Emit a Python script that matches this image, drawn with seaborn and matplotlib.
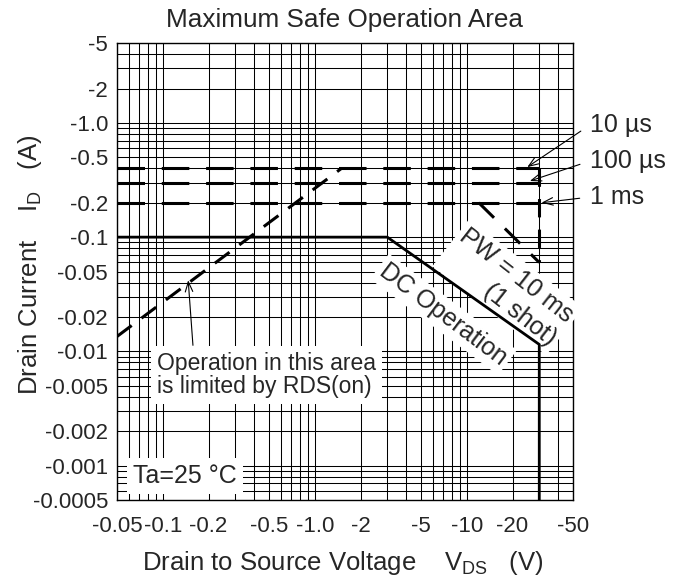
import matplotlib
matplotlib.use('Agg')
import matplotlib.pyplot as plt
import matplotlib.ticker as mticker
import numpy as np
import seaborn as sns

# axis ticks (labels are negative on the datasheet, values are magnitudes)
vds_ticks = [0.05, 0.1, 0.2, 0.5, 1, 2, 5, 10, 20, 50]
vds_labels = ['-0.05', '-0.1', '-0.2', '-0.5', '-1.0', '-2', '-5', '-10', '-20', '-50']
id_ticks = [0.0005, 0.001, 0.002, 0.005, 0.01, 0.02, 0.05, 0.1, 0.2, 0.5, 1, 2, 5]
id_labels = ['-0.0005', '-0.001', '-0.002', '-0.005', '-0.01', '-0.02', '-0.05',
             '-0.1', '-0.2', '-0.5', '-1.0', '-2', '-5']

# SOA curves
dc_v = [0.05, 3, 30, 30]
dc_i = [0.1, 0.1, 0.0115, 0.0005]
pulse_v = [0.05, 30]
pulse_10us_i = [0.4, 0.4]
pulse_100us_i = [0.3, 0.3]
pulse_1ms_i = [0.2, 0.2]
pw10ms_v = [12, 30]
pw10ms_i = [0.2, 0.06]
vdss_v = [30, 30]
vdss_i = [0.4, 0.06]
rds_v = [0.05, 1.5]
rds_i = [0.0135, 0.4]

sns.set_style('white')
plt.rcParams['font.family'] = ['Liberation Sans', 'DejaVu Sans']
plt.rcParams['mathtext.fontset'] = 'custom'
plt.rcParams['mathtext.rm'] = 'Liberation Sans'

fig = plt.figure(figsize=(6.81, 5.84), dpi=100)
ax = fig.add_axes([0.1718, 0.1438, 0.6696, 0.7825])
ax.set_xscale('log')
ax.set_yscale('log')

dash = (0, (9, 5.5))
sns.lineplot(x=dc_v, y=dc_i, sort=False, estimator=None, color='black', lw=2, ax=ax, zorder=4)
for yy in [pulse_10us_i, pulse_100us_i, pulse_1ms_i]:
    sns.lineplot(x=pulse_v, y=yy, sort=False, estimator=None, color='black', lw=2.2,
                 linestyle=dash, ax=ax, zorder=4)
sns.lineplot(x=pw10ms_v, y=pw10ms_i, sort=False, estimator=None, color='black', lw=2.2,
             linestyle=(0, (7, 5)), ax=ax, zorder=4)
sns.lineplot(x=vdss_v, y=vdss_i, sort=False, estimator=None, color='black', lw=2.2,
             linestyle=(0, (6, 4)), ax=ax, zorder=4)
sns.lineplot(x=rds_v, y=rds_i, sort=False, estimator=None, color='black', lw=2.2,
             linestyle=(0, (6, 4)), ax=ax, zorder=4)

ax.set_xlim(0.05, 50)
ax.set_ylim(0.0005, 5)
ax.xaxis.set_major_locator(mticker.FixedLocator(vds_ticks))
ax.xaxis.set_major_formatter(mticker.FixedFormatter(vds_labels))
ax.yaxis.set_major_locator(mticker.FixedLocator(id_ticks))
ax.yaxis.set_major_formatter(mticker.FixedFormatter(id_labels))
ax.xaxis.set_minor_locator(mticker.LogLocator(base=10, subs=np.arange(1, 10), numticks=100))
ax.yaxis.set_minor_locator(mticker.LogLocator(base=10, subs=np.arange(1, 10), numticks=100))
ax.xaxis.set_minor_formatter(mticker.NullFormatter())
ax.yaxis.set_minor_formatter(mticker.NullFormatter())
ax.tick_params(which='both', length=0)
ax.tick_params(axis='x', pad=11.5, labelsize=16)
ax.tick_params(axis='y', pad=6.5, labelsize=16)
ax.set_axisbelow(True)
ax.grid(which='both', color='black', lw=0.75)
for s in ax.spines.values():
    s.set_color('black')
    s.set_linewidth(1)

ax.set_title('Maximum Safe Operation Area', fontsize=18.8, pad=11.5)
ax.set_xlabel(r'Drain to Source Voltage    $\mathregular{V_{DS}}$   (V)', fontsize=18.5)
ax.xaxis.set_label_coords(0.496, -0.153)
ax.xaxis.label.set_va('baseline')
ax.set_ylabel(r'Drain Current    $\mathregular{I_D}$   (A)', fontsize=18.5)
ax.yaxis.set_label_coords(-0.175, 0.514)
ax.yaxis.label.set_va('baseline')

box = dict(boxstyle='square,pad=0.25', fc='white', ec='none')
ax.text(0.0877, 0.2735, 'Operation in this area\nis limited by RDS(on)', transform=ax.transAxes,
        ha='left', va='center', fontsize=16.5, linespacing=1.05, bbox=box, zorder=3)
ax.text(0.035, 0.0525, 'Ta=25 °C', transform=ax.transAxes, ha='left', va='center',
        fontsize=18, bbox=box, zorder=3)
ax.text(0.716, 0.406, 'DC Operation', transform=ax.transAxes, ha='center', va='center',
        rotation=-37, fontsize=18, bbox=dict(boxstyle='square,pad=0.15', fc='white', ec='none'),
        zorder=3)
ax.text(0.857, 0.466, 'PW = 10 ms\n(1 shot)', transform=ax.transAxes, ha='center', va='center',
        rotation=-38, multialignment='right', linespacing=1.25, fontsize=18,
        bbox=dict(boxstyle='square,pad=0.15', fc='white', ec='none'), zorder=3)

arrow = dict(arrowstyle='->,head_length=0.4,head_width=0.15', color='black', lw=0.8,
             shrinkA=5, shrinkB=0, relpos=(0, 0.5))
ax.annotate('10 µs', xy=(25, 0.41), xytext=(1.037, 0.8206), textcoords='axes fraction',
            ha='left', va='center', fontsize=18, arrowprops=arrow, zorder=5)
ax.annotate('100 µs', xy=(26, 0.31), xytext=(1.037, 0.7418), textcoords='axes fraction',
            ha='left', va='center', fontsize=18, arrowprops=arrow, zorder=5)
ax.annotate('1 ms', xy=(31, 0.2), xytext=(1.037, 0.663), textcoords='axes fraction',
            ha='left', va='center', fontsize=18, arrowprops=arrow, zorder=5)
ax.annotate('', xy=(0.147, 0.042), xytext=(0.158, 0.0113), fontsize=18,
            arrowprops=dict(arrowstyle='->,head_length=0.4,head_width=0.15', color='black',
                            lw=0.8, shrinkA=0, shrinkB=0), zorder=5)

fig.savefig('out.png', dpi=100)
